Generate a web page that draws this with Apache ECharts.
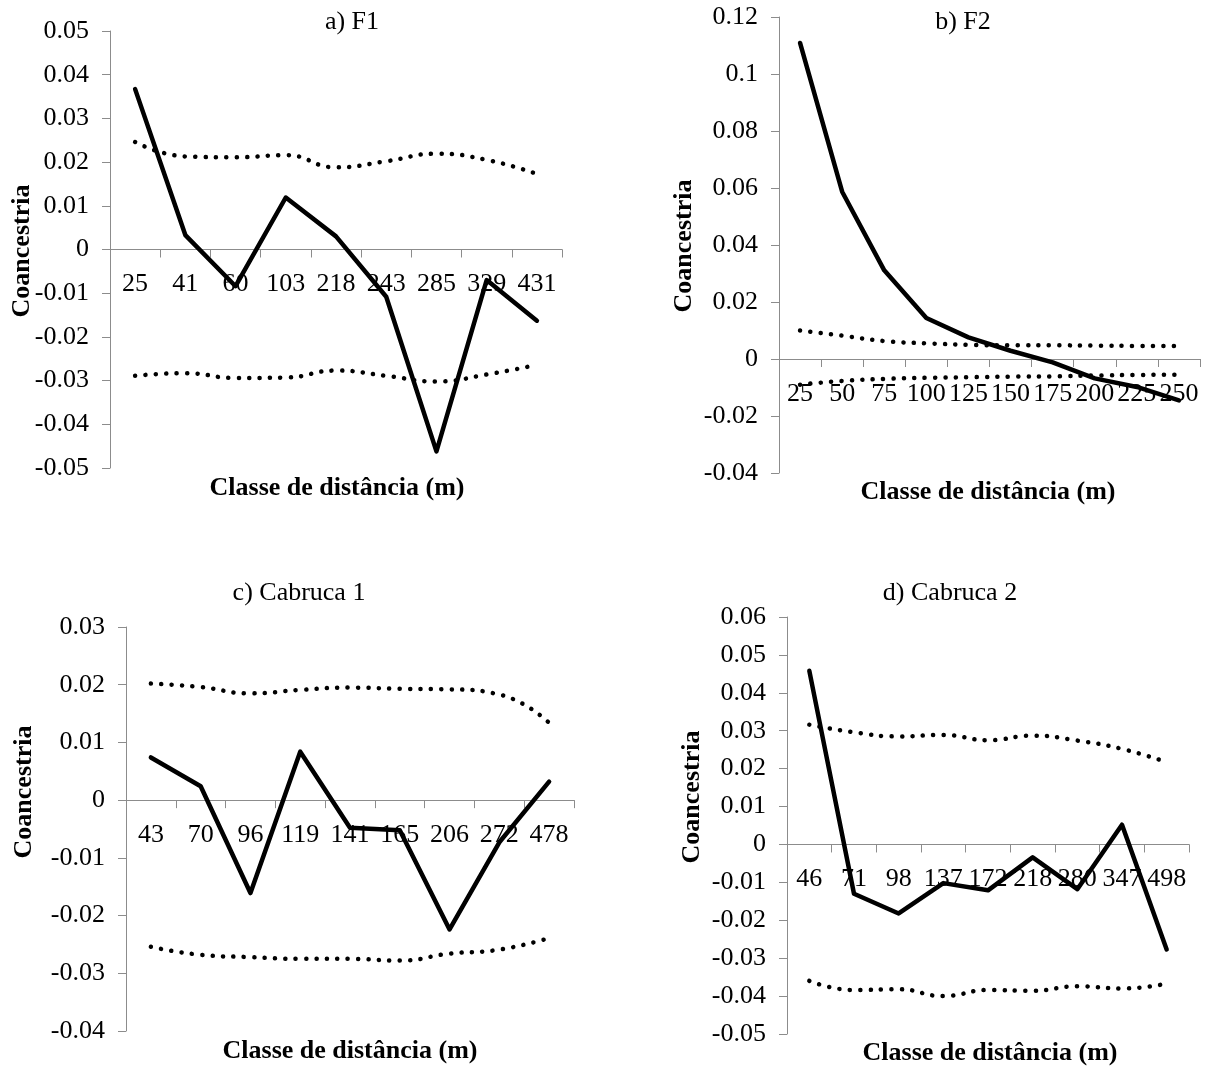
<!DOCTYPE html>
<html>
<head>
<meta charset="utf-8">
<script src="https://cdn.jsdelivr.net/npm/echarts@6/dist/echarts.min.js"></script>
<style>
html,body{margin:0;padding:0;background:#fff;}
#c{width:1206px;height:1070px;}
</style>
</head>
<body>
<div id="c"></div>
<script>
// ---- data ----
const titles = ['a) F1', 'b) F2', 'c) Cabruca 1', 'd) Cabruca 2'];
const xName = 'Classe de distância (m)';
const yName = 'Coancestria';

const catsA = ['25','41','60','103','218','243','285','329','431'];
const coanA = [0.0367, 0.0033, -0.0084, 0.0119, 0.0030, -0.0108, -0.0462, -0.0070, -0.0163];
const upperA = [0.0246, 0.0213, 0.0211, 0.0216, 0.0188, 0.0202, 0.0219, 0.0205, 0.0173];
const lowerA = [-0.0289, -0.0283, -0.0294, -0.0293, -0.0277, -0.0289, -0.0302, -0.0286, -0.0264];

const catsB = ['25','50','75','100','125','150','175','200','225','250'];
const coanB = [0.1109, 0.0587, 0.0311, 0.0144, 0.0076, 0.0029, -0.0012, -0.0068, -0.0098, -0.0145];
const upperB = [0.0100, 0.0082, 0.0063, 0.0055, 0.0050, 0.0048, 0.0048, 0.0047, 0.0046, 0.0046];
const lowerB = [-0.0090, -0.0077, -0.0070, -0.0066, -0.0064, -0.0062, -0.0061, -0.0058, -0.0056, -0.0055];

const catsC = ['43','70','96','119','141','165','206','272','478'];
const coanC = [0.0074, 0.0024, -0.0161, 0.0084, -0.0048, -0.0052, -0.0224, -0.0073, 0.0032];
const upperC = [0.0202, 0.0196, 0.0185, 0.0191, 0.0195, 0.0193, 0.0192, 0.0183, 0.0134];
const lowerC = [-0.0254, -0.0268, -0.0272, -0.0275, -0.0275, -0.0278, -0.0266, -0.0259, -0.0239];

const catsD = ['46','71','98','137','172','218','280','347','498'];
const coanD = [0.0458, -0.0130, -0.0182, -0.0102, -0.0121, -0.0034, -0.0118, 0.0052, -0.0277];
const upperD = [0.0316, 0.0296, 0.0285, 0.0289, 0.0275, 0.0287, 0.0274, 0.0252, 0.0217];
const lowerD = [-0.0360, -0.0384, -0.0382, -0.0400, -0.0384, -0.0386, -0.0374, -0.0380, -0.0367];

const yMins = [-0.05, -0.04, -0.04, -0.05];
const yMaxs = [0.05, 0.12, 0.03, 0.06];
const yIntervals = [0.01, 0.02, 0.01, 0.01];

// ---- layout ----
const FONT = '"Liberation Serif", "Times New Roman", serif';
const grids = [
  {left: 110, top: 31, width: 452, height: 437},
  {left: 779, top: 17, width: 421, height: 456},
  {left: 126, top: 627, width: 448, height: 404},
  {left: 787, top: 617, width: 402, height: 417}
];
const titlePos = [[352, 22], [963, 22], [299, 593], [950, 593]];
const xNamePos = [[337, 488], [988, 492], [350, 1051], [990, 1053]];
const yNamePos = [[22, 251], [684, 246], [24, 792], [692, 797]];

const panels = [
  {cats: catsA, coan: coanA, up: upperA, lo: lowerA},
  {cats: catsB, coan: coanB, up: upperB, lo: lowerB},
  {cats: catsC, coan: coanC, up: upperC, lo: lowerC},
  {cats: catsD, coan: coanD, up: upperD, lo: lowerD}
];

// place the category axis at value 0 (shift up from the grid bottom)
function zeroOffset(i) {
  return -grids[i].height * (0 - yMins[i]) / (yMaxs[i] - yMins[i]);
}

const axisColor = '#8c8c8c';
const option = {
  backgroundColor: '#fff',
  animation: false,
  grid: grids.map(g => Object.assign({containLabel: false}, g)),
  xAxis: panels.map((p, i) => ({
    type: 'category', gridIndex: i, data: p.cats, boundaryGap: true,
    position: 'bottom', offset: zeroOffset(i),
    axisLine: {onZero: false, lineStyle: {color: axisColor, width: 1}},
    axisTick: {show: true, inside: false, length: 8, alignWithLabel: false, lineStyle: {color: axisColor}},
    axisLabel: {interval: 0, margin: 22, fontFamily: FONT, fontSize: 26, color: '#000', hideOverlap: false},
    splitLine: {show: false},
    z: 0
  })),
  yAxis: panels.map((p, i) => ({
    type: 'value', gridIndex: i, min: yMins[i], max: yMaxs[i], interval: yIntervals[i],
    axisLine: {show: true, lineStyle: {color: axisColor, width: 1}},
    axisTick: {show: true, inside: false, length: 8, lineStyle: {color: axisColor}},
    axisLabel: {margin: 21, fontFamily: FONT, fontSize: 26, color: '#000',
      formatter: v => String(parseFloat(v.toFixed(3)))},
    splitLine: {show: false}
  })),
  series: [],
  graphic: []
};

panels.forEach((p, i) => {
  option.series.push({
    type: 'line', xAxisIndex: i, yAxisIndex: i, data: p.up, symbol: 'none', smooth: 0.5,
    lineStyle: {color: '#000', width: 4.5, type: [0.1, 10.3], cap: 'round'}, z: 2
  });
  option.series.push({
    type: 'line', xAxisIndex: i, yAxisIndex: i, data: p.lo, symbol: 'none', smooth: 0.5,
    lineStyle: {color: '#000', width: 4.5, type: [0.1, 10.3], cap: 'round'}, z: 2
  });
  option.series.push({
    type: 'line', xAxisIndex: i, yAxisIndex: i, data: p.coan, symbol: 'none', smooth: false,
    lineStyle: {color: '#000', width: 4.5, cap: 'round', join: 'round'}, z: 3
  });
  option.graphic.push({
    type: 'text', x: titlePos[i][0], y: titlePos[i][1],
    style: {text: titles[i], font: '26px ' + FONT, fill: '#000', textAlign: 'center', textVerticalAlign: 'middle'}
  });
  option.graphic.push({
    type: 'text', x: xNamePos[i][0], y: xNamePos[i][1],
    style: {text: xName, font: 'bold 26px ' + FONT, fill: '#000', textAlign: 'center', textVerticalAlign: 'middle'}
  });
  option.graphic.push({
    type: 'text', x: yNamePos[i][0], y: yNamePos[i][1], rotation: Math.PI / 2,
    style: {text: yName, font: 'bold 26px ' + FONT, fill: '#000', textAlign: 'center', textVerticalAlign: 'middle'}
  });
});

const chart = echarts.init(document.getElementById('c'), null, {renderer: 'canvas'});
chart.setOption(option);
</script>
</body>
</html>
